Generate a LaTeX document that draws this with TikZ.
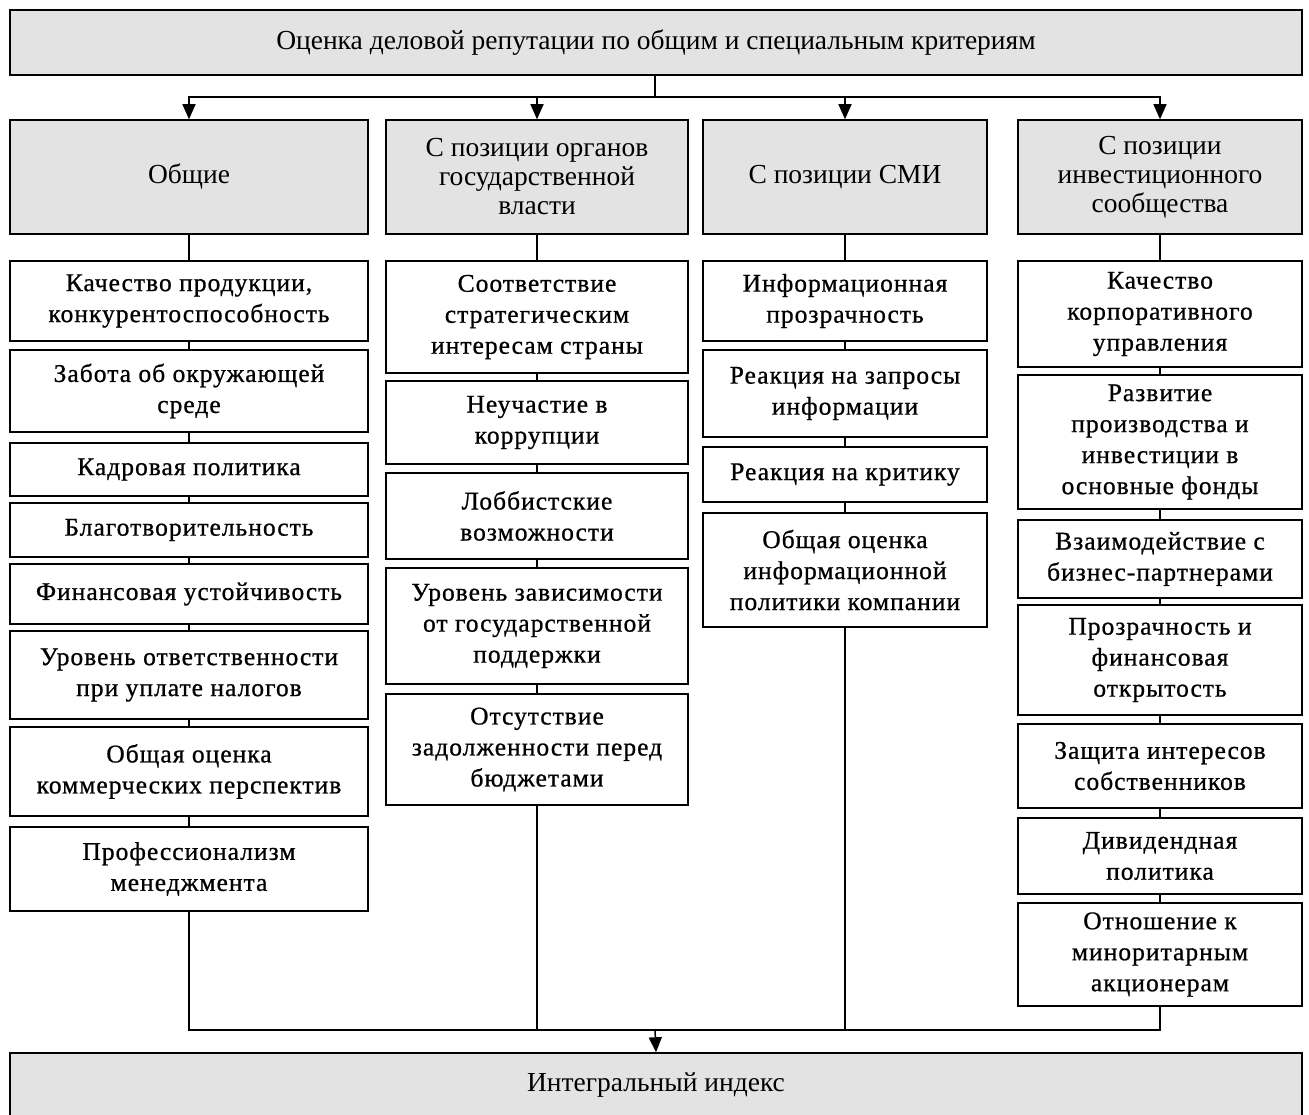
\documentclass[tikz,border=0pt]{standalone}
\usepackage{fontspec}
\setmainfont{Liberation Serif}
\newfontfamily\itemfontfam{Liberation Serif}[LetterSpace=4,FakeBold=0.8]
\usetikzlibrary{arrows.meta}
\definecolor{hgray}{HTML}{E3E3E3}
\tikzset{
  base/.style={draw, line width=1.5pt, align=center, inner sep=0pt},
  head/.style={base, fill=hgray, font=\fontsize{27.5}{29}\selectfont},
  item/.style={base, fill=white, font=\itemfontfam\fontsize{25.5}{31}\selectfont},
  conn/.style={line width=1.5pt},
  arr/.style={conn, -{Triangle[length=15pt,width=13pt]}}
}
\newcommand\bx[7][item]{%
  \pgfmathsetmacro\bxw{#5-#3}\pgfmathsetmacro\bxh{#6-#4}%
  \pgfmathsetmacro\bxx{(#3+#5)/2}\pgfmathsetmacro\bxy{-(#4+#6)/2}%
  \node[#1, minimum width=\bxw pt, minimum height=\bxh pt] (#2) at (\bxx pt,\bxy pt) {#7};}
\begin{document}
\begin{tikzpicture}[x=1pt,y=1pt]
\useasboundingbox[fill=white] (0,0) rectangle (1309,-1115);
% top and bottom
\bx[head]{top}{10}{10}{1302}{75}{Оценка деловой репутации по общим и специальным критериям}
\bx[head]{bot}{10}{1053}{1302}{1118}{Интегральный индекс}
% headers
\bx[head]{h1}{10}{120}{368}{234}{Общие}
\bx[head]{h2}{386}{120}{688}{234}{С позиции органов\\государственной\\власти}
\bx[head]{h3}{703}{120}{987}{234}{С позиции СМИ}
\bx[head]{h4}{1018}{120}{1302}{234}{С позиции\\инвестиционного\\сообщества}
% column 1
\bx{a1}{10}{261}{368}{341}{Качество продукции,\\конкурентоспособность}
\bx{a2}{10}{350}{368}{432}{Забота об окружающей\\среде}
\bx{a3}{10}{443}{368}{496}{Кадровая политика}
\bx{a4}{10}{503}{368}{557}{Благотворительность}
\bx{a5}{10}{564}{368}{624}{Финансовая устойчивость}
\bx{a6}{10}{631}{368}{719}{Уровень ответственности\\при уплате налогов}
\bx{a7}{10}{727}{368}{816}{Общая оценка\\коммерческих перспектив}
\bx{a8}{10}{827}{368}{911}{Профессионализм\\менеджмента}
% column 2
\bx{b1}{386}{261}{688}{373}{Соответствие\\стратегическим\\интересам страны}
\bx{b2}{386}{381}{688}{464}{Неучастие в\\коррупции}
\bx{b3}{386}{473}{688}{559}{Лоббистские\\возможности}
\bx{b4}{386}{568}{688}{684}{Уровень зависимости\\от государственной\\поддержки}
\bx{b5}{386}{694}{688}{805}{Отсутствие\\задолженности перед\\бюджетами}
% column 3
\bx{c1}{703}{261}{987}{341}{Информационная\\прозрачность}
\bx{c2}{703}{350}{987}{437}{Реакция на запросы\\информации}
\bx{c3}{703}{447}{987}{502}{Реакция на критику}
\bx{c4}{703}{513}{987}{627}{Общая оценка\\информационной\\политики компании}
% column 4
\bx{d1}{1018}{261}{1302}{367}{Качество\\корпоративного\\управления}
\bx{d2}{1018}{375}{1302}{509}{Развитие\\производства и\\инвестиции в\\основные фонды}
\bx{d3}{1018}{520}{1302}{598}{Взаимодействие с\\бизнес-партнерами}
\bx{d4}{1018}{605}{1302}{715}{Прозрачность и\\финансовая\\открытость}
\bx{d5}{1018}{724}{1302}{808}{Защита интересов\\собственников}
\bx{d6}{1018}{818}{1302}{894}{Дивидендная\\политика}
\bx{d7}{1018}{903}{1302}{1006}{Отношение к\\миноритарным\\акционерам}
% connectors top
\coordinate (tj) at (655,-97);
\coordinate (bj) at (655,-1030);
\draw[conn] (top.south -| tj) -- (tj);
\foreach \h in {h1,h2,h3,h4} \draw[arr] (tj) -| (\h.north);
% column chains
\draw[conn] (h1) -- (a1) (a1) -- (a2) (a2) -- (a3) (a3) -- (a4) (a4) -- (a5) (a5) -- (a6) (a6) -- (a7) (a7) -- (a8);
\draw[conn] (h2) -- (b1) (b1) -- (b2) (b2) -- (b3) (b3) -- (b4) (b4) -- (b5);
\draw[conn] (h3) -- (c1) (c1) -- (c2) (c2) -- (c3) (c3) -- (c4);
\draw[conn] (h4) -- (d1) (d1) -- (d2) (d2) -- (d3) (d3) -- (d4) (d4) -- (d5) (d5) -- (d6) (d6) -- (d7);
% bottom
\draw[conn] (a8.south) |- (bj);
\draw[conn] (b5.south) |- (bj);
\draw[conn] (c4.south) |- (bj);
\draw[conn] (d7.south) |- (bj);
\draw[arr] (bj) -- (bot.north);
\end{tikzpicture}
\end{document}
